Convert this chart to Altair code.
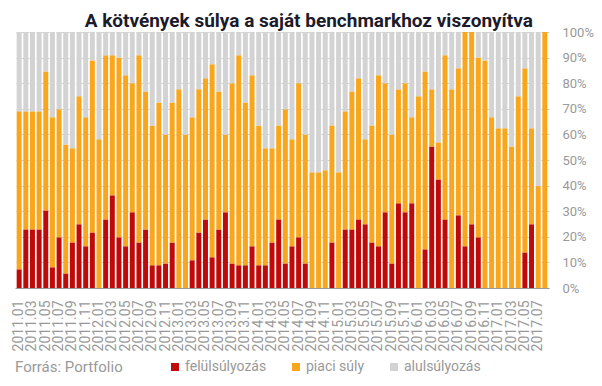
import altair as alt
import pandas as pd

# --- data (percent of funds) ---
felul = [7.3, 22.9, 22.9, 22.9, 30.3, 8.1, 19.8, 5.7, 17.8, 24.9,
         16.3, 21.7, 0.0, 26.8, 36.2, 19.8, 16.3, 29.6, 17.8, 22.9,
         8.9, 8.9, 9.6, 17.8, 0.0, 0.0, 10.8, 21.7, 26.8, 12.0,
         22.9, 29.6, 9.6, 8.9, 8.9, 16.3, 8.9, 8.9, 17.8, 26.8,
         9.6, 16.3, 19.8, 9.6, 0.0, 0.0, 0.0, 17.8, 0.0, 22.9,
         22.9, 26.8, 24.9, 17.8, 16.3, 29.6, 9.6, 33.1, 29.6, 33.1,
         0.0, 15.1, 55.3, 42.4, 26.8, 0.0, 28.4, 16.3, 24.9, 19.8,
         0.0, 0.0, 0.0, 0.0, 0.0, 0.0, 13.9, 24.9, 0.0, 0.0]
piaci = [61.7, 46.1, 46.1, 46.1, 54.3, 58.6, 50.0, 50.4, 36.8, 50.0,
         50.4, 67.2, 58.1, 64.1, 54.7, 70.2, 66.8, 50.4, 73.1, 53.9,
         54.6, 63.6, 50.4, 54.7, 77.6, 60.0, 55.9, 55.9, 55.1, 75.4,
         53.9, 30.4, 70.4, 82.0, 63.6, 66.8, 54.6, 45.7, 36.8, 36.7,
         60.2, 41.8, 60.2, 50.4, 45.2, 45.2, 46.0, 45.7, 45.2, 46.1,
         53.9, 55.1, 33.2, 45.7, 66.8, 50.4, 50.4, 44.5, 50.4, 33.6,
         74.9, 69.5, 22.3, 14.5, 64.1, 77.6, 57.4, 83.7, 75.1, 70.2,
         88.9, 66.7, 62.4, 62.4, 55.3, 74.9, 71.9, 37.5, 39.8, 100.0]
alul = [31.0, 31.0, 31.0, 31.0, 15.4, 33.3, 30.2, 43.9, 45.4, 25.1,
        33.3, 11.1, 41.9, 9.1, 9.1, 10.0, 16.9, 20.0, 9.1, 23.2,
        36.5, 27.5, 40.0, 27.5, 22.4, 40.0, 33.3, 22.4, 18.1, 12.6,
        23.2, 40.0, 20.0, 9.1, 27.5, 16.9, 36.5, 45.4, 45.4, 36.5,
        30.2, 41.9, 20.0, 40.0, 54.8, 54.8, 54.0, 36.5, 54.8, 31.0,
        23.2, 18.1, 41.9, 36.5, 16.9, 20.0, 40.0, 22.4, 20.0, 33.3,
        25.1, 15.4, 22.4, 43.1, 9.1, 22.4, 14.2, 0.0, 0.0, 10.0,
        11.1, 33.3, 37.6, 37.6, 44.7, 25.1, 14.2, 37.6, 60.2, 0.0]

months = [f"{y}.{m:02d}" for y in range(2011, 2018) for m in range(1, 13)][:80]
tick_months = months[::2]
y_ticks = [0, 0.1, 0.2, 0.3, 0.4, 0.5, 0.6, 0.7, 0.8, 0.9, 1.0]

cats = ["felülsúlyozás", "piaci súly", "alulsúlyozás"]
colors = ["#C00A0A", "#F9A61C", "#D3D3D3"]

rows = []
for i, mo in enumerate(months):
    for k, (name, vals) in enumerate(zip(cats, [felul, piaci, alul])):
        rows.append({"honap": mo, "kategoria": name, "ertek": vals[i], "sorrend": k})
df = pd.DataFrame(rows)

gray = "#999999"

chart = alt.Chart(df).mark_bar().encode(
    x=alt.X(
        "honap:O", sort=months,
        scale=alt.Scale(paddingInner=0.25, paddingOuter=0.25),
        axis=alt.Axis(title=None, values=tick_months, labelAngle=-90,
                      labelFontSize=14, labelColor=gray, ticks=False,
                      labelPadding=12, domainColor=gray, grid=False,
                      labelFont="Roboto"),
    ),
    y=alt.Y(
        "ertek:Q", stack="normalize",
        scale=alt.Scale(domain=[0, 1]),
        axis=alt.Axis(orient="right", format=".0%", title=None, values=y_ticks,
                      labelFontSize=13, labelColor=gray, ticks=False,
                      domain=False, labelPadding=13, labelAlign="left",
                      gridColor="#cfcfcf", gridDash=[3, 2], labelFont="Roboto"),
    ),
    color=alt.Color(
        "kategoria:N",
        scale=alt.Scale(domain=cats, range=colors),
        legend=alt.Legend(
            title="Forrás: Portfolio", orient="none", legendX=0, legendY=328,
            direction="horizontal", titleOrient="left", titleFontSize=15,
            titleFontWeight="normal", titleColor=gray, titlePadding=45,
            titleFont="Roboto", labelFont="Roboto",
            labelFontSize=14, labelColor=gray, symbolType="square",
            symbolSize=64, symbolStrokeWidth=0, symbolOpacity=1,
            columnPadding=22, labelOffset=3,
        ),
    ),
    order=alt.Order("sorrend:Q", sort="ascending"),
).properties(
    width=534, height=256,
    autosize=alt.AutoSizeParams(type="none"),
    padding={"left": 7, "top": 24, "right": 45, "bottom": 90},
    title=alt.TitleParams(
        "A kötvények súlya a saját benchmarkhoz viszonyítva",
        anchor="start", dx=73, dy=24, fontSize=19, fontWeight="bold",
        color="#1b1b2b", font="Roboto", baseline="bottom", offset=0,
    ),
).configure_view(stroke=None)

chart.save("out.html", embed_options={"renderer": "svg", "actions": False})
